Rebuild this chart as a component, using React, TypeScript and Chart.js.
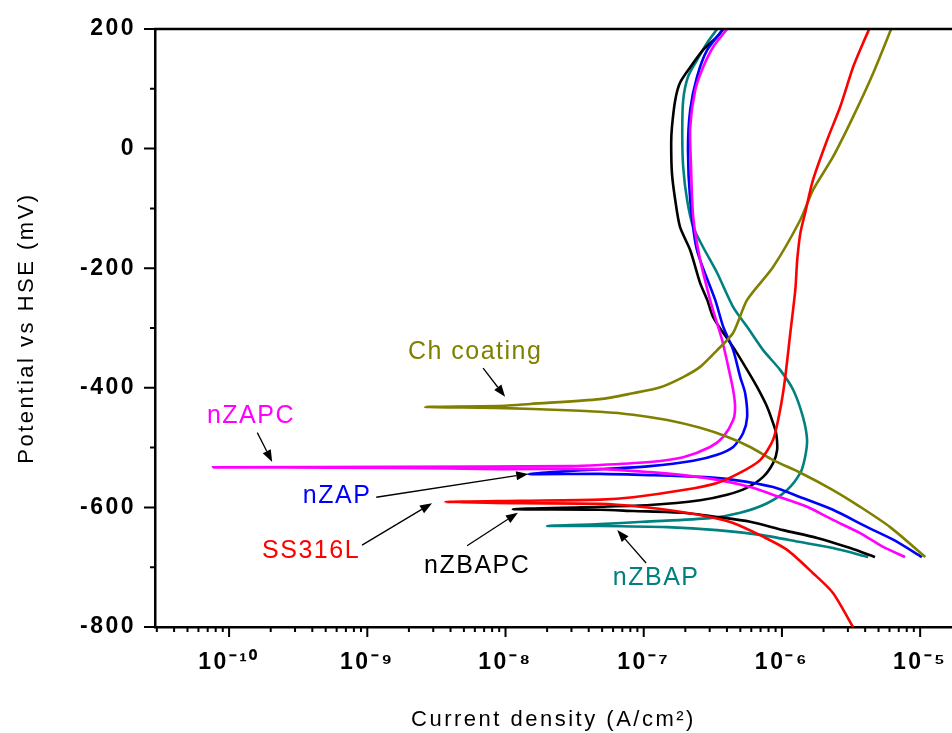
import React, { useEffect, useRef } from "react";
import { Chart, registerables } from "chart.js";

Chart.register(...registerables);

const W = 952;
const H = 733;

// ---------- data (current density A/cm², potential mV) ----------
const ss316lCurrent = [3.27e-6, 2.34e-6, 1.68e-6, 1.09e-6, 7.31e-7, 4.44e-7, 3.02e-7, 1.93e-7, 9.4e-8, 4.83e-8, 1.28e-8, 3.66e-9, 1.28e-8, 4.83e-8, 8.37e-8, 1.93e-7, 3.4e-7, 4.99e-7, 6.95e-7, 8.63e-7, 9.7e-7, 1.05e-6, 1.15e-6, 1.25e-6, 1.29e-6, 1.36e-6, 1.47e-6, 1.68e-6, 2.12e-6, 2.64e-6, 3.27e-6, 3.87e-6, 4.28e-6];
const ss316lPotential = [-800, -743, -710, -671, -649, -626, -616, -608, -599, -594, -593, -591, -589, -587, -583, -571, -559, -542, -521, -487, -437, -387, -308, -236, -186, -141, -108, -52, 14, 70, 136, 177, 200];

const chCurrent = [1.09e-5, 6.07e-6, 3.68e-6, 2.34e-6, 1.36e-6, 8.63e-7, 5.89e-7, 4.01e-7, 2.56e-7, 1.48e-7, 8.37e-8, 4.83e-8, 2.48e-8, 9.93e-9, 2.62e-9, 9.93e-9, 1.51e-8, 4.83e-8, 8.37e-8, 1.32e-7, 1.93e-7, 2.56e-7, 3.4e-7, 4.44e-7, 5.6e-7, 8.63e-7, 1.36e-6, 1.68e-6, 2.34e-6, 3.27e-6, 4.57e-6, 6.17e-6];
const chPotential = [-683, -633, -599, -571, -542, -521, -499, -482, -467, -454, -445, -440, -437, -434, -432, -430, -427, -419, -409, -399, -382, -365, -337, -308, -253, -198, -119, -69, -14, 53, 126, 200];

const nzapcCurrent = [7.78e-6, 5.4e-6, 3.68e-6, 2.34e-6, 1.52e-6, 9.7e-7, 5.89e-7, 3.4e-7, 1.93e-7, 1.11e-7, 4.83e-8, 9.14e-9, 1.54e-9, 7.66e-11, 1.54e-9, 2.99e-8, 4.83e-8, 1.11e-7, 1.93e-7, 3.02e-7, 3.76e-7, 4.44e-7, 4.58e-7, 4.44e-7, 4.09e-7, 3.69e-7, 3.29e-7, 3.02e-7, 2.56e-7, 2.28e-7, 2.2e-7, 2.17e-7, 2.36e-7, 2.69e-7, 3.18e-7, 4.01e-7];
const nzapcPotential = [-683, -666, -643, -621, -599, -583, -566, -554, -546, -541, -536, -536, -534, -533, -532, -531, -529, -524, -516, -499, -482, -454, -432, -404, -365, -320, -282, -253, -186, -114, -31, 36, 98, 136, 170, 200];

const nzapCurrent = [1.03e-5, 6.38e-6, 4.14e-6, 2.34e-6, 1.36e-6, 8.63e-7, 4.44e-7, 2.56e-7, 1.11e-7, 4.83e-8, 1.46e-8, 4.83e-8, 1.11e-7, 2.28e-7, 3.4e-7, 4.44e-7, 5.23e-7, 5.6e-7, 5.42e-7, 4.99e-7, 4.44e-7, 3.76e-7, 3.29e-7, 2.43e-7, 2.17e-7, 2.09e-7, 2.17e-7, 2.43e-7, 2.88e-7, 3.76e-7];
const nzapPotential = [-683, -654, -633, -604, -583, -566, -554, -549, -546, -544, -544, -536, -531, -522, -512, -499, -476, -449, -409, -382, -337, -298, -253, -170, -86, -2, 65, 120, 165, 200];

const nzbapcCurrent = [4.72e-6, 3.12e-6, 1.8e-6, 1.02e-6, 5.89e-7, 3.4e-7, 1.93e-7, 8.37e-8, 4.83e-8, 1.13e-8, 4.83e-8, 1.11e-7, 2.56e-7, 4.01e-7, 5.6e-7, 7.31e-7, 8.63e-7, 9.23e-7, 9.08e-7, 8.63e-7, 7.82e-7, 6.62e-7, 5.6e-7, 4.44e-7, 3.76e-7, 3.18e-7, 2.88e-7, 2.56e-7, 2.17e-7, 1.83e-7, 1.69e-7, 1.6e-7, 1.58e-7, 1.6e-7, 1.69e-7, 1.83e-7, 2.17e-7, 2.69e-7, 3.4e-7, 3.76e-7];
const nzbapcPotential = [-683, -668, -651, -638, -624, -616, -609, -606, -604, -603, -599, -596, -588, -579, -567, -549, -526, -504, -476, -459, -432, -399, -370, -332, -308, -282, -253, -225, -170, -131, -86, -41, 9, 36, 81, 110, 136, 165, 187, 200];

const nzbapCurrent = [4.21e-6, 2.34e-6, 1.36e-6, 6.95e-7, 3.4e-7, 1.48e-7, 4.83e-8, 2.0e-8, 4.83e-8, 9.91e-8, 3.02e-7, 4.99e-7, 7.82e-7, 1.09e-6, 1.36e-6, 1.47e-6, 1.52e-6, 1.42e-6, 1.21e-6, 9.7e-7, 7.31e-7, 5.6e-7, 4.44e-7, 3.4e-7, 2.69e-7, 2.28e-7, 2.06e-7, 1.93e-7, 1.9e-7, 1.93e-7, 2.09e-7, 2.43e-7, 2.88e-7, 3.4e-7];
const nzbapPotential = [-683, -668, -658, -646, -638, -633, -631, -631, -628, -624, -618, -609, -593, -571, -542, -516, -487, -449, -404, -370, -337, -298, -265, -208, -165, -131, -86, -31, 26, 81, 120, 148, 177, 200];

const seriesNames = ["SS316L", "Ch coating", "nZAPC", "nZAP", "nZBAPC", "nZBAP"];
const seriesColors = ["#ff0000", "#808000", "#ff00ff", "#0000ff", "#000000", "#008080"];
const seriesCurrents = [ss316lCurrent, chCurrent, nzapcCurrent, nzapCurrent, nzbapcCurrent, nzbapCurrent];
const seriesPotentials = [ss316lPotential, chPotential, nzapcPotential, nzapPotential, nzbapcPotential, nzbapPotential];

// ---------- axes ----------
const xMin = 2.91e-11;
const xMax = 1.7e-5;
const yMin = -800;
const yMax = 200;
const xMajorTicks = [1e-10, 1e-9, 1e-8, 1e-7, 1e-6, 1e-5];
const xMinorMultipliers = [2, 3, 4, 5, 6, 7, 8, 9];
const yMajorTicks = [-800, -600, -400, -200, 0, 200];
const yMinorTicks = [-700, -500, -300, -100, 100];
const xTitle = "Current density (A/cm\u00B2)";
const yTitle = "Potential vs HSE (mV)";

// ---------- annotations ----------
const annoLabels = ["Ch coating", "nZAPC", "nZAP", "SS316L", "nZBAPC", "nZBAP"];
const annoColors = ["#808000", "#ff00ff", "#0000ff", "#ff0000", "#000000", "#008080"];
const annoTextX = [6.03e-9, 1.44e-10, 6.04e-10, 3.92e-10, 6.24e-9, 1.23e-7];
const annoTextY = [-340, -447, -581, -673, -698, -718];
const arrowFromX = [6.89e-9, 1.6e-10, 1.16e-9, 9.16e-10, 5.27e-9, 1.04e-7];
const arrowFromY = [-367, -475, -583, -663, -664, -693];
const arrowToX = [9.93e-9, 2.05e-10, 1.46e-8, 2.94e-9, 1.23e-8, 6.43e-8];
const arrowToY = [-415, -524, -544, -593, -609, -638];

const FONT = '"Liberation Sans", Arial, Helvetica, sans-serif';
const SUP: Record<string, string> = {
  "-": "\u207B", "0": "\u2070", "1": "\u00B9", "2": "\u00B2", "3": "\u00B3",
  "4": "\u2074", "5": "\u2075", "6": "\u2076", "7": "\u2077", "8": "\u2078", "9": "\u2079",
};
const toSup = (n: number) => String(n).split("").map((c) => SUP[c] || c).join("");

const decorPlugin = {
  id: "decor",
  beforeDraw(chart: any) {
    chart.ctx.letterSpacing = "2.5px";
  },
  beforeDatasetsDraw(chart: any) {
    chart.ctx.letterSpacing = "0px";
  },
  afterDraw(chart: any) {
    const { ctx, chartArea: a, scales } = chart;
    const xs = scales.x;
    const ys = scales.y;
    ctx.save();
    ctx.letterSpacing = "0px";
    ctx.strokeStyle = "#000";
    // top frame line
    ctx.lineWidth = 2.5;
    ctx.beginPath();
    ctx.moveTo(a.left - 1, a.top);
    ctx.lineTo(a.right, a.top);
    ctx.stroke();
    // y ticks (outward)
    ctx.lineWidth = 2;
    ctx.beginPath();
    yMajorTicks.forEach((v) => {
      const py = ys.getPixelForValue(v);
      ctx.moveTo(a.left - 11, py);
      ctx.lineTo(a.left, py);
    });
    yMinorTicks.forEach((v) => {
      const py = ys.getPixelForValue(v);
      ctx.moveTo(a.left - 5, py);
      ctx.lineTo(a.left, py);
    });
    // x ticks (outward)
    const decades = [-11, -10, -9, -8, -7, -6, -5];
    decades.forEach((d) => {
      [1, ...xMinorMultipliers].forEach((m) => {
        const v = m * Math.pow(10, d);
        if (v < xMin || v > xMax) return;
        const px = xs.getPixelForValue(v);
        const len = m === 1 ? 10 : 5;
        ctx.moveTo(px, a.bottom);
        ctx.lineTo(px, a.bottom + len);
      });
    });
    ctx.stroke();

    // annotations
    annoLabels.forEach((lab, i) => {
      const tx = xs.getPixelForValue(annoTextX[i]);
      const ty = ys.getPixelForValue(annoTextY[i]);
      ctx.font = `25px ${FONT}`;
      ctx.letterSpacing = "1.5px";
      ctx.fillStyle = annoColors[i];
      ctx.textAlign = "center";
      ctx.textBaseline = "middle";
      ctx.fillText(lab, tx, ty);
      ctx.letterSpacing = "0px";
      const x1 = xs.getPixelForValue(arrowFromX[i]);
      const y1 = ys.getPixelForValue(arrowFromY[i]);
      const x2 = xs.getPixelForValue(arrowToX[i]);
      const y2 = ys.getPixelForValue(arrowToY[i]);
      const ang = Math.atan2(y2 - y1, x2 - x1);
      const hl = 12;
      const hw = 4.5;
      ctx.strokeStyle = "#000";
      ctx.fillStyle = "#000";
      ctx.lineWidth = 1.3;
      ctx.beginPath();
      ctx.moveTo(x1, y1);
      ctx.lineTo(x2 - hl * Math.cos(ang), y2 - hl * Math.sin(ang));
      ctx.stroke();
      ctx.beginPath();
      ctx.moveTo(x2, y2);
      ctx.lineTo(x2 - hl * Math.cos(ang) + hw * Math.sin(ang), y2 - hl * Math.sin(ang) - hw * Math.cos(ang));
      ctx.lineTo(x2 - hl * Math.cos(ang) - hw * Math.sin(ang), y2 - hl * Math.sin(ang) + hw * Math.cos(ang));
      ctx.closePath();
      ctx.fill();
    });
    ctx.restore();
  },
};

export default function App() {
  const ref = useRef<HTMLCanvasElement | null>(null);

  useEffect(() => {
    if (!ref.current) return;
    const datasets = seriesNames.map((name, i) => ({
      label: name,
      data: seriesCurrents[i].map((c, j) => ({ x: c, y: seriesPotentials[i][j] })),
      borderColor: seriesColors[i],
      backgroundColor: seriesColors[i],
      borderWidth: 2.6,
      pointRadius: 0,
      pointHoverRadius: 0,
      showLine: true,
      tension: 0.25,
      fill: false,
    }));

    const chart = new Chart(ref.current, {
      type: "scatter",
      data: { datasets },
      plugins: [decorPlugin],
      options: {
        responsive: false,
        animation: false,
        events: [],
        layout: { padding: { top: 29, left: 0, right: 0, bottom: 0 } },
        plugins: {
          legend: { display: false },
          tooltip: { enabled: false },
        },
        scales: {
          x: {
            type: "logarithmic",
            position: "bottom",
            min: xMin,
            max: xMax,
            afterFit: (s: any) => {
              s.height = 106;
              s.paddingLeft = 0;
              s.paddingRight = 0;
            },
            afterBuildTicks: (s: any) => {
              s.ticks = xMajorTicks.map((v) => ({ value: v }));
            },
            grid: { display: false, drawTicks: false },
            border: { display: true, color: "#000", width: 2.5 },
            ticks: {
              autoSkip: false,
              maxRotation: 0,
              minRotation: 0,
              padding: 22,
              color: "#000",
              font: { family: FONT, size: 23, weight: "bold" },
              callback: (v: any) => "10" + toSup(Math.round(Math.log10(Number(v)))),
            },
            title: {
              display: true,
              text: xTitle,
              color: "#000",
              font: { family: FONT, size: 22 },
              padding: { top: 0, bottom: 0 },
            },
          },
          y: {
            type: "linear",
            position: "left",
            min: yMin,
            max: yMax,
            afterFit: (s: any) => {
              s.width = 155;
              s.paddingTop = 0;
              s.paddingBottom = 0;
            },
            afterBuildTicks: (s: any) => {
              s.ticks = yMajorTicks.map((v) => ({ value: v }));
            },
            grid: { display: false, drawTicks: false },
            border: { display: true, color: "#000", width: 2.5 },
            ticks: {
              padding: 19,
              color: "#000",
              font: { family: FONT, size: 23, weight: "bold" },
              callback: (v: any) => String(v),
            },
            title: {
              display: true,
              text: yTitle,
              color: "#000",
              font: { family: FONT, size: 22 },
              padding: { top: 14, bottom: 0 },
            },
          },
        },
      },
    } as any);
    return () => chart.destroy();
  }, []);

  return (
    <div style={{ position: "fixed", left: 0, top: 0, width: W, height: H, background: "#fff" }}>
      <canvas ref={ref} width={W} height={H} style={{ display: "block" }} />
    </div>
  );
}
